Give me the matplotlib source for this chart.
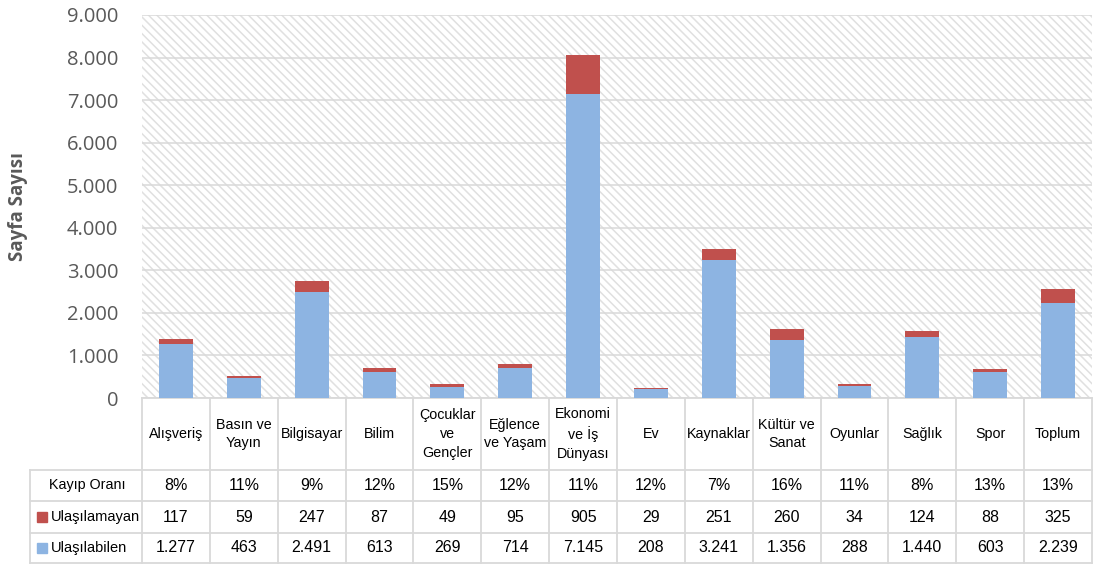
import matplotlib
matplotlib.use("Agg")
import matplotlib.pyplot as plt
from matplotlib import transforms
from matplotlib.patches import Rectangle

# data
categories = ["Alışveriş", "Basın ve\nYayın", "Bilgisayar", "Bilim",
              "Çocuklar\nve\nGençler", "Eğlence\nve Yaşam", "Ekonomi\nve İş\nDünyası",
              "Ev", "Kaynaklar", "Kültür ve\nSanat", "Oyunlar", "Sağlık", "Spor", "Toplum"]
ulasilabilen = [1277, 463, 2491, 613, 269, 714, 7145, 208, 3241, 1356, 288, 1440, 603, 2239]
ulasilamayan = [117, 59, 247, 87, 49, 95, 905, 29, 251, 260, 34, 124, 88, 325]
kayip_orani = ["8%", "11%", "9%", "12%", "15%", "12%", "11%", "12%", "7%", "16%", "11%", "8%", "13%", "13%"]
yticks = list(range(0, 9001, 1000))

BLUE = "#8DB4E2"
RED = "#C0504D"
GRID = "#d9d9d9"
TXT = "#595959"
W, H = 1095, 568
AX_L, AX_R, AX_T, AX_B = 142, 1092, 15, 398
TICK_FONT = ["Open Sans", "DejaVu Sans"]
TABLE_FONT = ["Liberation Sans Narrow", "Liberation Sans", "DejaVu Sans"]

plt.rcParams["hatch.linewidth"] = 1.1


def fmt(v):
    return f"{v:,}".replace(",", ".")


fig = plt.figure(figsize=(W / 100, H / 100), dpi=100)
ax = fig.add_axes([AX_L / W, 1 - AX_B / H, (AX_R - AX_L) / W, (AX_B - AX_T) / H])

# hatched plot-area background
ax.add_patch(Rectangle((0, 0), 1, 1, transform=ax.transAxes, facecolor="white",
                       edgecolor="#e0e0e0", hatch="\\\\\\\\", linewidth=0, zorder=0))

x = list(range(len(categories)))
ax.bar(x, ulasilabilen, width=0.5, color=BLUE, zorder=3)
ax.bar(x, ulasilamayan, width=0.5, bottom=ulasilabilen, color=RED, zorder=3)

ax.set_xlim(-0.5, len(categories) - 0.5)
ax.set_ylim(0, 9000)
ax.set_yticks(yticks)
ax.set_yticklabels([fmt(v) for v in yticks], family=TICK_FONT, fontsize=14.5, color=TXT)
ax.tick_params(axis="y", length=0, pad=17)
ax.set_xticks([])
ax.yaxis.grid(True, color=GRID, linewidth=1.1, zorder=1)
ax.set_axisbelow(True)
for s in ax.spines.values():
    s.set_visible(False)

fig.text(18 / W, 1 - 206 / H, "Sayfa Sayısı", rotation=90, ha="center", va="center",
         family=TICK_FONT, fontsize=13.5, fontweight="bold", color=TXT)

# data table under the chart
trans = transforms.blended_transform_factory(ax.transData, ax.transAxes)
col_w = (AX_R - AX_L) / len(categories)


def yf(py):
    return -(py - AX_B) / (AX_B - AX_T)


def xd(px):
    return -0.5 + (px - AX_L) / col_w


y_rows = [yf(398), yf(470), yf(501), yf(533), yf(563)]
left = xd(30)
right = len(categories) - 0.5
lk = dict(color=GRID, linewidth=1.3, transform=trans, clip_on=False, zorder=2)

ax.plot([-0.5, right], [y_rows[0]] * 2, **lk)
for yy in y_rows[1:]:
    ax.plot([left, right], [yy] * 2, **lk)
for i in range(len(categories) + 1):
    ax.plot([i - 0.5] * 2, [y_rows[0], y_rows[-1]], **lk)
ax.plot([left] * 2, [y_rows[1], y_rows[-1]], **lk)

tk = dict(transform=trans, ha="center", va="center", family=TABLE_FONT,
          fontsize=11.5, color="black", clip_on=False)
rows = [kayip_orani, [fmt(v) for v in ulasilamayan], [fmt(v) for v in ulasilabilen]]
for i, cat in enumerate(categories):
    ax.text(i, (y_rows[0] + y_rows[1]) / 2, cat, linespacing=1.45, **{**tk, "fontsize": 10.3})
    for r, vals in enumerate(rows):
        ax.text(i, (y_rows[r + 1] + y_rows[r + 2]) / 2, vals[i], **tk)

ax.text(xd(87), (y_rows[1] + y_rows[2]) / 2, "Kayıp Oranı", **{**tk, "fontsize": 10.3})
for r, (name, col) in enumerate([("Ulaşılamayan", RED), ("Ulaşılabilen", BLUE)]):
    ym = (y_rows[r + 2] + y_rows[r + 3]) / 2
    ax.plot([xd(41.5)], [ym], marker="s", markersize=6.5, color=col, linestyle="none",
            transform=trans, clip_on=False)
    ax.text(xd(51), ym, name, **{**tk, "ha": "left", "fontsize": 10.5})

fig.savefig("out.png", dpi=100, facecolor="white")
